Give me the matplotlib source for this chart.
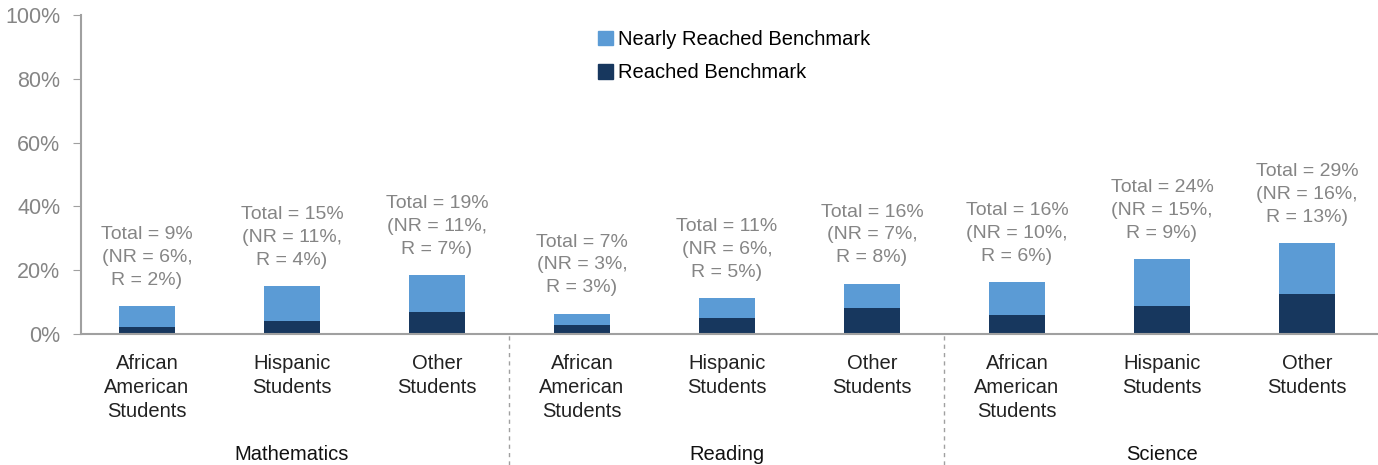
import numpy as np
import matplotlib
matplotlib.use("Agg")
import matplotlib.pyplot as plt
import matplotlib.transforms as mtransforms
from matplotlib.patches import Patch

plt.rcParams["font.family"] = ["Liberation Sans", "DejaVu Sans"]

subjects = ["Mathematics", "Reading", "Science"]
groups = ["African\nAmerican\nStudents", "Hispanic\nStudents", "Other\nStudents"]
reached = [2.3, 4.1, 6.9, 2.9, 5.0, 8.2, 6.1, 8.9, 12.6]
nearly = [6.4, 10.9, 11.5, 3.5, 6.2, 7.6, 10.1, 14.6, 15.9]
annot = ["Total = 9%\n(NR = 6%,\nR = 2%)", "Total = 15%\n(NR = 11%,\nR = 4%)", "Total = 19%\n(NR = 11%,\nR = 7%)",
         "Total = 7%\n(NR = 3%,\nR = 3%)", "Total = 11%\n(NR = 6%,\nR = 5%)", "Total = 16%\n(NR = 7%,\nR = 8%)",
         "Total = 16%\n(NR = 10%,\nR = 6%)", "Total = 24%\n(NR = 15%,\nR = 9%)", "Total = 29%\n(NR = 16%,\nR = 13%)"]

C_NR = "#5b9bd5"
C_R = "#17375e"
GRAY = "#858585"

W, H = 1378, 465
fig = plt.figure(figsize=(W / 100, H / 100), dpi=100)
ax = fig.add_axes([81 / W, (H - 334) / H, (1379.5 - 81) / W, (334 - 15) / H])

x = np.arange(len(reached))
ax.bar(x, reached, width=0.39, color=C_R, zorder=2)
ax.bar(x, nearly, width=0.39, bottom=reached, color=C_NR, zorder=2)

for xi, r, n, t in zip(x, reached, nearly, annot):
    ax.annotate(t, (xi, r + n), xytext=(0, 12.5), textcoords="offset points",
                ha="center", va="bottom", color=GRAY, fontsize=14, linespacing=1.45)

ax.set_xlim(-0.455, 8.5)
ax.set_ylim(0, 100)
ax.set_yticks(range(0, 101, 20))
ax.set_yticklabels([f"{v}%" for v in range(0, 101, 20)], color=GRAY, fontsize=15.5)
ax.tick_params(axis="y", direction="out", length=6, color="#a0a0a0", pad=9)
ax.set_xticks(x)
ax.set_xticklabels(groups * 3, fontsize=14.5, color="#222222", linespacing=1.33)
ax.tick_params(axis="x", length=0, pad=14.5)

for s in ["top", "right"]:
    ax.spines[s].set_visible(False)
for s in ["left", "bottom"]:
    ax.spines[s].set_color("#a0a0a0")
    ax.spines[s].set_linewidth(1.5)

trans = mtransforms.blended_transform_factory(ax.transData, fig.transFigure)
for xs in [2.5, 5.5]:
    ax.plot([xs, xs], [0, (H - 334) / H], transform=trans, color="#a0a0a0",
            ls=(0, (3, 3)), lw=1, clip_on=False)
for i, s in enumerate(subjects):
    ax.text(3 * i + 1, 11 / H, s, transform=trans, ha="center", va="center",
            fontsize=14.5, color="#111111")

handles = [Patch(color=C_NR, label="Nearly Reached Benchmark"),
           Patch(color=C_R, label="Reached Benchmark")]
fig.legend(handles=handles, loc="upper left", bbox_to_anchor=(588 / W, 1 - 20 / H),
           frameon=False, fontsize=14.5, handlelength=0.75, handleheight=0.75,
           handletextpad=0.25, labelspacing=0.7, borderpad=0)

fig.savefig("out.png", dpi=100)
